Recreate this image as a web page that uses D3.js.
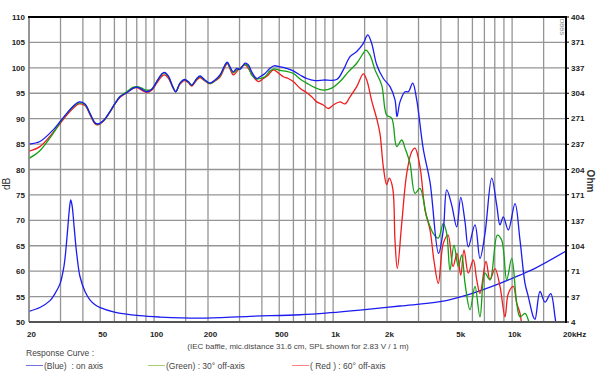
<!DOCTYPE html>
<html lang="en">
  <head>
    <meta charset="utf-8">
    <title>Response Curve</title>
    <style>
      body { margin: 0; background: #fff; }
      svg { display: block; font-family: "Liberation Sans", Arial, sans-serif; }
      .tick-label { font-family: "Liberation Sans Narrow", "Liberation Sans", Arial, sans-serif; font-weight: bold; font-size: 8px; fill: #222; }
      .note { font-size: 8.5px; fill: #444; }
    </style>
  </head>
  <body>
    <svg class="chart"></svg>
    <script src="https://d3js.org/d3.v7.min.js"></script>
    <script>
    // on axis (blue)
    const blueFreq = [20, 23, 27.3, 29.8, 32.5, 35.4, 38.1, 41.1, 43.8, 46.7, 48.4, 52, 56.7, 60.5, 64.5, 70.3, 76.5, 80.5, 85.2, 90.9, 97, 103.4, 110.3, 114, 120, 127, 132, 139.5, 147.5, 155.3, 162.2, 173, 180.5, 192.4, 205.2, 218.8, 233.4, 248.9, 256.3, 265.4, 276.9, 289.3, 301.9, 321.9, 335.9, 350.9, 374.2, 390.5, 416.4, 444, 467.4, 505, 550.4, 599.2, 653.2, 712.1, 792.4, 881.5, 1047, 1140, 1243, 1355, 1475, 1561, 1643, 1752, 1908, 2079, 2217, 2275, 2364, 2522, 2631, 2784, 2931, 3190, 3478, 3880, 4127, 4312, 4598, 4903, 5163, 5456, 5693, 6203, 6615, 7054, 7691, 8202, 8557, 8928, 9521, 10378, 11068, 11803, 12316, 13135, 13426, 14314, 15265, 16426, 17360, 17813];
    const blueDb = [85.0, 85.5, 87.8, 89.4, 91.05, 92.5, 93.3, 92.9, 91.05, 89.2, 88.95, 89.6, 91.4, 93.0, 94.3, 95.1, 96.0, 96.2, 95.8, 95.3, 95.8, 97.3, 98.8, 99.1, 98.4, 96.3, 95.3, 97.0, 97.7, 97.3, 96.6, 97.9, 98.4, 97.6, 97.0, 97.6, 98.6, 100.6, 101.1, 100.2, 99.2, 99.9, 99.7, 100.9, 100.6, 99.2, 97.9, 98.25, 98.9, 99.9, 100.4, 100.2, 99.9, 99.4, 98.6, 97.9, 97.5, 97.6, 97.7, 99.6, 102.2, 103.2, 104.8, 106.5, 104.8, 100.6, 97.9, 96.3, 93.7, 90.4, 93.3, 95.3, 95.3, 97.0, 93.7, 84.0, 77.5, 63.5, 68.1, 76.0, 73.0, 68.7, 74.5, 69.7, 64.8, 69.1, 62.5, 67.4, 78.3, 73.0, 69.1, 70.7, 68.1, 73.3, 66.1, 57.6, 55.0, 51.0, 50.5, 56.0, 53.9, 55.6, 51.0, 48.0];

    // 30 deg off-axis (green)
    const greenFreq = [20, 23, 27.3, 29.8, 32.5, 35.4, 38.1, 41.1, 43.8, 46.7, 48.4, 52, 56.7, 60.5, 64.5, 70.3, 76.5, 80.5, 85.2, 90.9, 97, 103.4, 110.3, 114, 120, 127, 132, 139.5, 147.5, 155.3, 162.2, 173, 180.5, 192.4, 205.2, 218.8, 233.4, 248.9, 256.3, 265.4, 276.9, 289.3, 301.9, 321.9, 335.9, 350.9, 374.2, 390.5, 416.4, 444, 467.4, 505, 550.4, 599.2, 653.2, 712.1, 792.4, 881.5, 982, 1093, 1216, 1355, 1475, 1521, 1608, 1714, 1868, 1992, 2125, 2266, 2417, 2522, 2689, 2868, 3058, 3333, 3629, 3870, 4127, 4312, 4498, 4736, 5006, 5231, 5456, 5817, 6203, 6615, 7054, 7524, 8266, 8746, 9329, 9949, 10609, 11068, 11803, 12316, 12752];
    const greenDb = [82.2, 83.7, 87.1, 89.2, 91.0, 92.4, 93.1, 92.8, 91.0, 89.2, 88.9, 89.6, 91.4, 93.0, 94.4, 95.3, 96.2, 96.3, 96.0, 95.6, 95.8, 97.3, 98.7, 99.0, 98.3, 96.3, 95.3, 97.0, 97.7, 97.2, 96.6, 97.8, 98.3, 97.5, 96.9, 97.5, 98.4, 100.5, 101.0, 100.0, 99.0, 99.6, 99.8, 100.7, 100.3, 98.6, 97.8, 97.9, 98.25, 99.4, 99.8, 99.5, 99.3, 98.9, 97.8, 97.0, 96.1, 95.6, 96.0, 97.3, 99.2, 100.9, 102.9, 103.5, 102.5, 99.6, 96.6, 90.7, 90.1, 84.5, 85.8, 84.2, 81.2, 75.3, 76.3, 70.7, 67.4, 66.5, 69.4, 67.4, 60.2, 65.1, 60.9, 63.2, 57.6, 52.4, 57.0, 51.0, 59.6, 58.3, 67.1, 66.1, 58.3, 62.5, 53.7, 51.0, 51.7, 50.4, 47.0];

    // 60 deg off-axis (red)
    const redFreq = [20, 23, 27.3, 29.8, 32.5, 35.4, 38.1, 41.1, 43.8, 46.7, 48.4, 52, 56.7, 60.5, 64.5, 70.3, 76.5, 80.5, 85.2, 90.9, 97, 103.4, 110.3, 114, 120, 127, 132, 139.5, 147.5, 155.3, 162.2, 173, 180.5, 192.4, 205.2, 218.8, 233.4, 248.9, 256.3, 265.4, 276.9, 295.3, 321.9, 335.9, 358.2, 382, 407.4, 434.4, 463.3, 494.1, 527, 561.9, 599.2, 653.2, 712.1, 759.5, 809.9, 881.5, 939.9, 1002, 1093, 1165, 1243, 1355, 1475, 1541, 1643, 1752, 1828, 1908, 1992, 2060, 2153, 2217, 2284, 2417, 2577, 2748, 2868, 3058, 3262, 3478, 3662, 3870, 4127, 4384, 4676, 4922, 5163, 5386, 5693, 6068, 6341, 6615, 7147, 7524, 8026, 8557, 9127, 9521, 10155, 10609, 11068, 11505];
    const redDb = [83.6, 84.5, 87.3, 89.0, 90.7, 92.1, 92.9, 92.6, 90.8, 89.0, 88.8, 89.5, 91.3, 92.9, 94.2, 95.1, 96.0, 96.1, 95.6, 95.2, 95.6, 97.0, 98.3, 98.6, 98.0, 96.2, 95.3, 96.8, 97.5, 97.1, 96.4, 97.6, 98.1, 97.4, 96.9, 97.4, 98.2, 100.2, 100.9, 99.8, 98.6, 99.6, 100.6, 99.9, 98.25, 97.3, 97.9, 98.6, 99.6, 99.0, 98.25, 97.9, 97.3, 96.0, 95.1, 94.3, 93.3, 92.7, 92.0, 92.7, 93.3, 92.9, 94.3, 96.3, 98.8, 97.6, 93.5, 90.0, 87.0, 80.5, 77.0, 78.3, 76.3, 66.0, 60.5, 69.4, 79.2, 83.5, 84.2, 80.5, 72.0, 68.1, 62.0, 57.6, 65.5, 67.1, 60.9, 63.5, 59.2, 64.2, 59.6, 62.2, 58.3, 55.6, 61.9, 58.3, 60.5, 57.0, 51.0, 55.6, 57.0, 53.7, 51.7, 47.0];

    // impedance (blue, right axis)
    const impFreq = [20, 23, 26.2, 27.9, 29.8, 31.4, 32.6, 33.5, 34.2, 34.8, 35.7, 36.6, 37.1, 38.5, 41.1, 43.8, 46.8, 50, 60, 83, 108, 180, 343, 653, 961, 1413, 2364, 3954, 5817, 8558, 11066, 13424, 20000];
    const impOhm = [18, 23, 32, 41, 54, 78, 115, 148, 164, 157, 130, 102, 90, 64, 44, 33, 26.5, 22.8, 17, 12.3, 10.5, 9, 11.5, 13.5, 16.2, 19.7, 25, 30.6, 40.7, 54.7, 65.6, 74.4, 97];

    const gridFreqs = [20, 30, 40, 50, 60, 70, 80, 90, 100, 150, 200, 300, 400, 500, 600, 700, 800, 900, 1000, 1500, 2000, 3000, 4000, 5000, 6000, 7000, 8000, 9000, 10000, 15000, 20000];
    const xTicks = [20, 50, 100, 200, 500, 1000, 2000, 5000, 10000, 20000];
    const xTickLabels = ["20", "50", "100", "200", "500", "1k", "2k", "5k", "10k", "20kHz"];
    const dbTicks = [50, 55, 60, 65, 70, 75, 80, 85, 90, 95, 100, 105, 110];
    const ohmTicks = [4, 37, 71, 104, 137, 171, 204, 237, 271, 304, 337, 371, 404];

    const margins = {left: 29, right: 34, top: 17, bottom: 50};
    const W = 600, H = 372;
    const width = W - margins.left - margins.right;
    const height = H - margins.top - margins.bottom;

    const svg = d3.select(".chart").attr("width", W).attr("height", H);

    const xScale = d3.scaleLog().domain([20, 20000]).range([margins.left, margins.left + width]);
    const yScale = d3.scaleLinear().domain([50, 110]).range([margins.top + height, margins.top]);
    const zScale = d3.scaleLinear().domain([4, 404]).range([margins.top + height, margins.top]);

    svg.append("clipPath").attr("id", "plot-clip")
      .append("rect")
      .attr("x", margins.left).attr("y", margins.top)
      .attr("width", width).attr("height", height);

    // grid
    svg.append("g").selectAll("line").data(dbTicks).enter().append("line")
      .attr("x1", margins.left).attr("x2", margins.left + width)
      .attr("y1", d => yScale(d)).attr("y2", d => yScale(d))
      .style("stroke", "#959595").style("stroke-width", 1.3);
    svg.append("g").selectAll("line").data(gridFreqs).enter().append("line")
      .attr("x1", d => xScale(d)).attr("x2", d => xScale(d))
      .attr("y1", margins.top).attr("y2", margins.top + height)
      .style("stroke", "#959595").style("stroke-width", 1.3);

    // curves
    const line = d3.line()
      .x(d => xScale(d[0]))
      .y(d => d[2](d[1]))
      .curve(d3.curveCatmullRom.alpha(0.5));

    const curves = [
      {f: impFreq, v: impOhm, s: zScale, c: "#1c1cf0"},
      {f: redFreq, v: redDb, s: yScale, c: "#f01c1c"},
      {f: greenFreq, v: greenDb, s: yScale, c: "#14a014"},
      {f: blueFreq, v: blueDb, s: yScale, c: "#1c1cf0"}
    ];
    const plot = svg.append("g").attr("clip-path", "url(#plot-clip)");
    curves.forEach(function(cv) {
      plot.append("path")
        .datum(cv.f.map((f, i) => [f, cv.v[i], cv.s]))
        .attr("d", line)
        .style("fill", "none")
        .style("stroke", cv.c)
        .style("stroke-width", 1.3);
    });

    // frame
    svg.append("line").attr("x1", margins.left).attr("x2", margins.left)
      .attr("y1", margins.top).attr("y2", margins.top + height)
      .style("stroke", "#888").style("stroke-width", 1.5);
    svg.append("line").attr("x1", margins.left).attr("x2", margins.left + width)
      .attr("y1", margins.top + height).attr("y2", margins.top + height)
      .style("stroke", "#555").style("stroke-width", 2);
    svg.append("line").attr("x1", margins.left - 1).attr("x2", margins.left + width + 1)
      .attr("y1", margins.top).attr("y2", margins.top)
      .style("stroke", "#000").style("stroke-width", 2.2);
    svg.append("line").attr("x1", margins.left + width).attr("x2", margins.left + width)
      .attr("y1", margins.top).attr("y2", margins.top + height + 1)
      .style("stroke", "#000").style("stroke-width", 2);

    // left axis labels
    svg.append("g").selectAll("text").data(dbTicks).enter().append("text")
      .attr("class", "tick-label")
      .attr("x", margins.left - 4).attr("y", d => yScale(d) + 3)
      .attr("text-anchor", "end")
      .text(d => d);

    // right axis ticks and labels
    const right = svg.append("g");
    right.selectAll("line").data(ohmTicks).enter().append("line")
      .attr("x1", margins.left + width).attr("x2", margins.left + width + 3)
      .attr("y1", d => zScale(d)).attr("y2", d => zScale(d))
      .style("stroke", "#000").style("stroke-width", 1);
    right.selectAll("text").data(ohmTicks).enter().append("text")
      .attr("class", "tick-label")
      .attr("x", margins.left + width + 5).attr("y", d => zScale(d) + 3)
      .text(d => d);

    // bottom labels
    svg.append("g").selectAll("text").data(xTicks).enter().append("text")
      .attr("class", "tick-label")
      .attr("x", (d, i) => i == xTicks.length - 1 ? xScale(d) - 3 : xScale(d) + 2.5)
      .attr("y", margins.top + height + 15)
      .attr("text-anchor", (d, i) => i == xTicks.length - 1 ? "start" : "middle")
      .text((d, i) => xTickLabels[i]);

    // axis titles
    svg.append("text")
      .attr("transform", "translate(10," + 184 + ") rotate(-90)")
      .attr("text-anchor", "middle")
      .style("font-size", "10px").style("fill", "#333")
      .text("dB");
    svg.append("text")
      .attr("transform", "translate(587," + 181 + ") rotate(90)")
      .attr("text-anchor", "middle")
      .style("font-size", "10px").style("font-weight", "bold").style("fill", "#333")
      .text("Ohm");
    svg.append("text")
      .attr("transform", "translate(" + (margins.left + width - 6) + "," + (margins.top + 2) + ") rotate(90)")
      .style("font-size", "6px").style("fill", "#777")
      .text("DBBS");

    // caption and legend
    svg.append("text").attr("class", "note")
      .attr("x", 298).attr("y", 349)
      .attr("text-anchor", "middle")
      .style("font-size", "8px")
      .text("(IEC baffle, mic.distance 31.6 cm, SPL shown for 2.83 V / 1 m)");
    svg.append("text").attr("class", "note")
      .attr("x", 26).attr("y", 356)
      .text("Response Curve :");

    const legendItems = [
      {x: 26, c: "#7070e0", t: "(Blue)  : on axis"},
      {x: 148, c: "#a8d070", t: "(Green) : 30° off-axis"},
      {x: 292, c: "#ff8080", t: "( Red ) : 60° off-axis"}
    ];
    const legend = svg.append("g");
    legend.selectAll("line").data(legendItems).enter().append("line")
      .attr("x1", d => d.x).attr("x2", d => d.x + 17)
      .attr("y1", 365.5).attr("y2", 365.5)
      .style("stroke", d => d.c).style("stroke-width", 1);
    legend.selectAll("text").data(legendItems).enter().append("text")
      .attr("class", "note")
      .attr("x", d => d.x + 18).attr("y", 368.5)
      .style("white-space", "pre")
      .attr("xml:space", "preserve")
      .text(d => d.t);
    </script>
  </body>
</html>
